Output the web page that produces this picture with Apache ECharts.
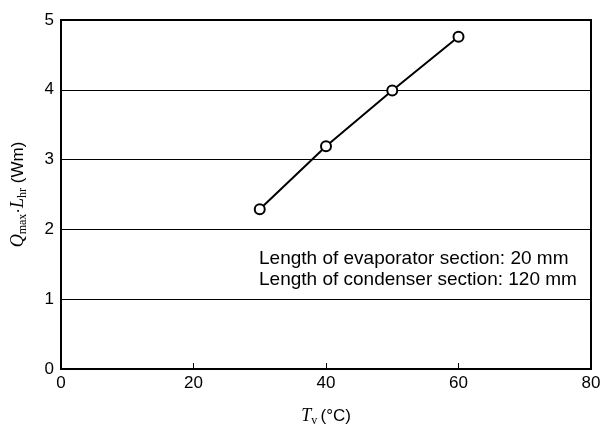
<!DOCTYPE html>
<html><head><meta charset="utf-8">
<script src="https://cdn.jsdelivr.net/npm/echarts@6/dist/echarts.min.js"></script>
<style>html,body{margin:0;padding:0;background:#fff}#c{width:612px;height:432px}</style>
</head><body><div id="c"></div>
<script>
const xValues = [30, 40, 50, 60];
const yValues = [2.29, 3.19, 3.99, 4.76];
const xTicks = [0, 20, 40, 60, 80];
const yTicks = [0, 1, 2, 3, 4, 5];
const noteLines = ['Length of evaporator section: 20 mm', 'Length of condenser section: 120 mm'];

const chart = echarts.init(document.getElementById('c'));
const sans = '"Liberation Sans", Arial, sans-serif';
const serif = '"Liberation Serif", "Times New Roman", serif';
chart.setOption({
  animation: false,
  backgroundColor: '#fff',
  grid: { left: 61, right: 21, top: 20, bottom: 60, show: true, borderColor: '#000', borderWidth: 2, backgroundColor: 'transparent' },
  xAxis: {
    type: 'value', min: xTicks[0], max: xTicks[xTicks.length - 1], interval: 20,
    axisLine: { show: true, lineStyle: { color: '#000', width: 2 } },
    axisTick: { show: true, inside: true, length: 6, lineStyle: { color: '#000', width: 1 } },
    axisLabel: { color: '#000', fontFamily: sans, fontSize: 17, margin: 6 },
    splitLine: { show: false },
    name: '{i|T}{s|v} {n|(°C)}', nameLocation: 'middle', nameGap: 37,
    nameTextStyle: { rich: {
      i: { fontFamily: serif, fontStyle: 'italic', fontSize: 18, color: '#000' },
      s: { fontFamily: serif, fontSize: 12, color: '#000', padding: [9, 0, 0, 0] },
      n: { fontFamily: sans, fontSize: 17, color: '#000' }
    } }
  },
  yAxis: {
    type: 'value', min: yTicks[0], max: yTicks[yTicks.length - 1], interval: 1,
    axisLine: { show: true, lineStyle: { color: '#000', width: 2 } },
    axisTick: { show: false },
    axisLabel: { color: '#000', fontFamily: sans, fontSize: 17, margin: 7 },
    splitLine: { show: true, lineStyle: { color: '#000', width: 1 } },
    name: '{i|Q}{s|max}{n|·}{i|L}{s|hr}{n| (Wm)}', nameLocation: 'middle', nameGap: 32, nameRotate: 90,
    nameTextStyle: { rich: {
      i: { fontFamily: serif, fontStyle: 'italic', fontSize: 18, color: '#000' },
      s: { fontFamily: serif, fontSize: 12, color: '#000', padding: [9, 0, 0, 0] },
      n: { fontFamily: sans, fontSize: 17, color: '#000' }
    } }
  },
  graphic: noteLines.map((t, k) => ({
    type: 'text', left: 259, top: 249 + k * 21,
    style: { text: t, fill: '#000', font: '19px ' + sans }
  })),
  series: [{
    type: 'line',
    data: xValues.map((x, k) => [x, yValues[k]]),
    symbol: 'circle', symbolSize: 10,
    lineStyle: { color: '#000', width: 2 },
    itemStyle: { color: '#fff', borderColor: '#000', borderWidth: 2 },
    z: 5
  }]
});
</script></body></html>
